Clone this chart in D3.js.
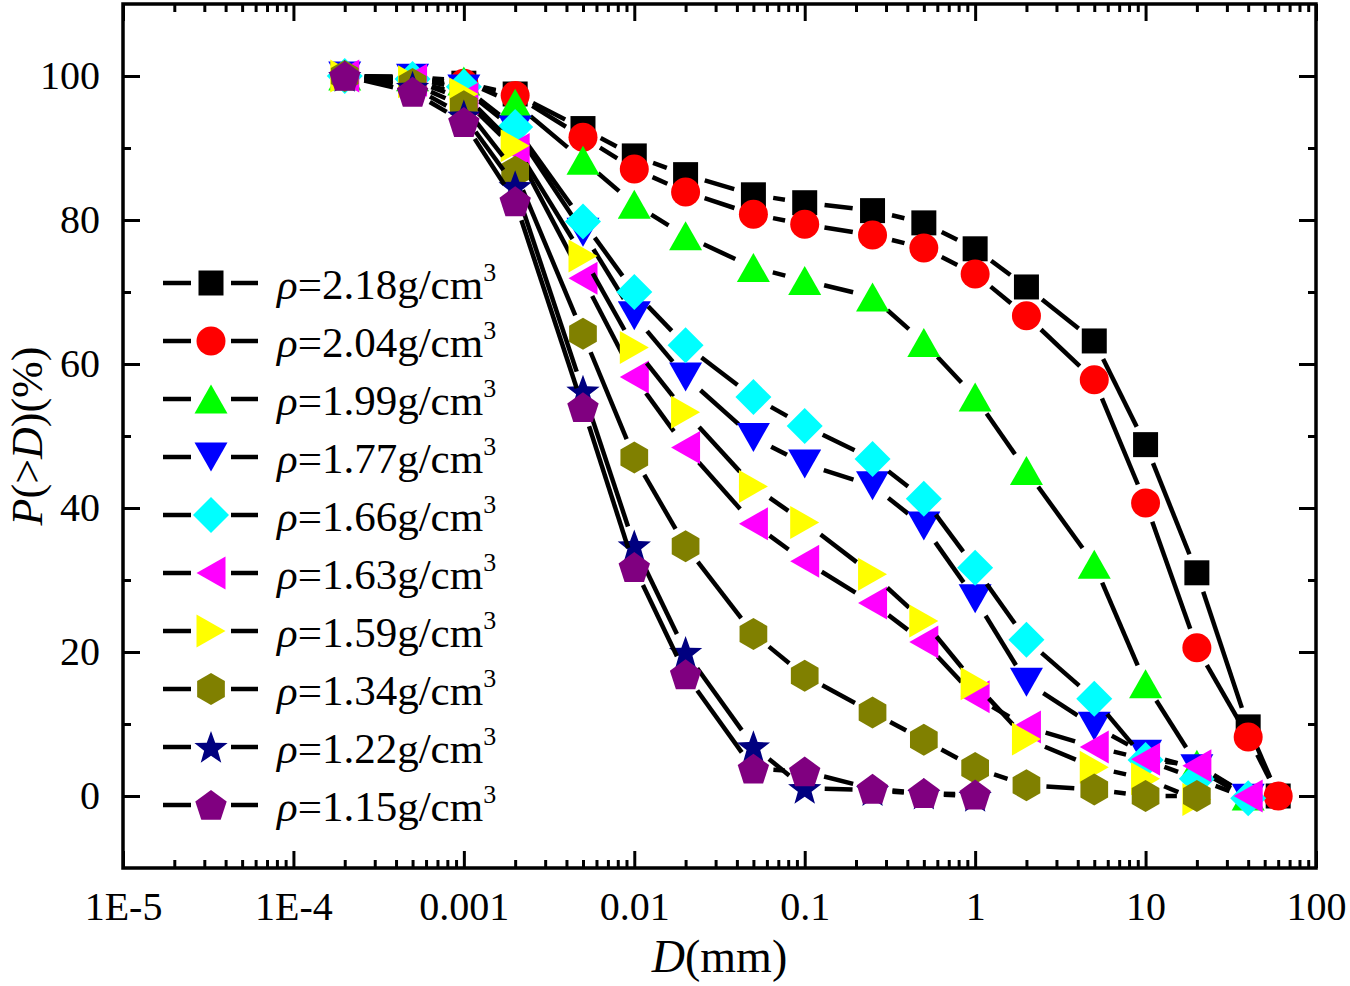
<!DOCTYPE html>
<html>
<head>
  <script src="https://d3js.org/d3.v7.min.js"></script>
  <style>
    body { margin: 0; background: #fff; }
    svg { display: block; font-family: "Liberation Serif", "Times New Roman", serif; }
  </style>
</head>
<body>
<div id="chart"></div>
<script>
  // particle size D (mm)
  var sizes = [0.0002, 0.0005, 0.001, 0.002, 0.005, 0.01, 0.02, 0.05, 0.1, 0.25, 0.5, 1, 2, 5, 10, 20, 40, 60];

  // P(>D) in %, one array per density (null = no point)
  var rho218 = [100, 99.8, 99, 97.5, 92.7, 88.9, 86.3, 83.5, 82.4, 81.3, 79.6, 76, 70.7, 63.2, 48.8, 31, 9.6, 0];
  var rho204 = [100, 99.6, 99, 97.3, 91.5, 87.1, 83.9, 80.8, 79.4, 77.9, 76.1, 72.5, 66.7, 57.8, 40.7, 20.6, 8.2, 0];
  var rho199 = [100, 99.9, 99.3, 96.2, 88.3, 82.2, 77.8, 73.4, 71.6, 69.3, 63, 55.4, 45.2, 32.2, 15.6, 4.4, 0, null];
  var rho177 = [100, 99.7, 98.2, 92.5, 78.3, 66.7, 58.2, 49.8, 46.1, 43.1, 37.5, 27.4, 15.8, 9.7, 5.8, 3.8, -0.3, null];
  var rho166 = [100, 99.6, 98.5, 92.9, 79.8, 70, 62.6, 55.4, 51.4, 46.8, 41.3, 31.7, 21.7, 13.5, 5, 2.4, -0.3, null];
  var rho163 = [100, 99.4, 96.8, 89.8, 71.9, 58.2, 48.4, 37.8, 32.6, 26.8, 21.4, 13.8, 9.6, 6.8, 5.1, 4.2, 0, null];
  var rho159 = [100, 99.2, 97.5, 90.3, 75, 62.3, 53.3, 43, 38, 30.8, 24.3, 15.6, 7.9, 4, 2.4, -0.5, null, null];
  var rho134 = [100, 98.9, 95.8, 86.7, 64.2, 47, 34.7, 22.5, 16.7, 11.6, 7.8, 3.9, 1.5, 0.9, 0, 0, null, null];
  var rho122 = [100, 98.5, 94.5, 84.7, 56.3, 34.8, 20, 6.9, 1.1, 0.8, 0.3, 0, null, null, null, null, null, null];
  var rho115 = [100, 97.8, 93.6, 82.6, 54, 31.8, 16.9, 3.8, 3.4, 1, 0.4, 0.2, null, null, null, null, null, null];

  var seriesNames = ["2.18", "2.04", "1.99", "1.77", "1.66", "1.63", "1.59", "1.34", "1.22", "1.15"];
  var seriesColors = ["#000000", "#ff0000", "#00ff00", "#0000ff", "#00ffff", "#ff00ff", "#ffff00", "#808000", "#000080", "#800080"];
  var seriesShapes = ["square", "circle", "up", "down", "diamond", "left", "right", "hexagon", "star", "pentagon"];
  var seriesValues = [rho218, rho204, rho199, rho177, rho166, rho163, rho159, rho134, rho122, rho115];

  var xTickValues = [1e-5, 1e-4, 0.001, 0.01, 0.1, 1, 10, 100];
  var xTickLabels = ["1E-5", "1E-4", "0.001", "0.01", "0.1", "1", "10", "100"];
  var yTickValues = [0, 20, 40, 60, 80, 100];
  var yMinorValues = [10, 30, 50, 70, 90];

  var width = 1350, height = 986;
  var plotLeft = 123, plotRight = 1316, plotTop = 4, plotBottom = 868;

  var svg = d3.select("#chart").append("svg")
    .attr("width", width)
    .attr("height", height);

  svg.append("rect").attr("width", width).attr("height", height).attr("fill", "#fff");

  var x = d3.scaleLog().domain([1e-5, 100]).range([plotLeft, plotRight]);
  var y = d3.scaleLinear().domain([-10, 110]).range([plotBottom, plotTop]);

  // marker shapes as d3 symbol types, drawn at a fixed pixel size
  function poly(ctx, pts) {
    ctx.moveTo(pts[0][0], pts[0][1]);
    for (var i = 1; i < pts.length; i++) ctx.lineTo(pts[i][0], pts[i][1]);
    ctx.closePath();
  }
  function regular(n, r, rot) {
    var pts = [];
    for (var i = 0; i < n; i++) {
      var a = rot + i * 2 * Math.PI / n;
      pts.push([r * Math.cos(a), r * Math.sin(a)]);
    }
    return pts;
  }
  var shapeTypes = {
    square: { draw: function(ctx) { poly(ctx, [[-12.5, -12.5], [12.5, -12.5], [12.5, 12.5], [-12.5, 12.5]]); } },
    circle: { draw: function(ctx) { ctx.moveTo(14.5, 0); ctx.arc(0, 0, 14.5, 0, 2 * Math.PI); } },
    up: { draw: function(ctx) { poly(ctx, [[0, -14.5], [16.5, 14.5], [-16.5, 14.5]]); } },
    down: { draw: function(ctx) { poly(ctx, [[0, 14.5], [16.5, -14.5], [-16.5, -14.5]]); } },
    left: { draw: function(ctx) { poly(ctx, [[-14.5, 0], [14.5, -16.5], [14.5, 16.5]]); } },
    right: { draw: function(ctx) { poly(ctx, [[14.5, 0], [-14.5, -16.5], [-14.5, 16.5]]); } },
    diamond: { draw: function(ctx) { poly(ctx, [[0, -18], [18, 0], [0, 18], [-18, 0]]); } },
    hexagon: { draw: function(ctx) { poly(ctx, regular(6, 16, -Math.PI / 2)); } },
    pentagon: { draw: function(ctx) { poly(ctx, regular(5, 16.5, -Math.PI / 2).map(function(p) { return [p[0], p[1] + 1.5]; })); } },
    star: { draw: function(ctx) {
      var pts = [];
      for (var i = 0; i < 10; i++) {
        var r = i % 2 ? 7.2 : 17.5;
        var a = -Math.PI / 2 + i * Math.PI / 5;
        pts.push([r * Math.cos(a), r * Math.sin(a) + 1.5]);
      }
      poly(ctx, pts);
    } }
  };

  // connecting lines stop short of each marker
  var gap = 20;
  function gappedSegments(pts) {
    var segs = [];
    for (var i = 1; i < pts.length; i++) {
      var p0 = pts[i - 1], p1 = pts[i];
      var dx = p1[0] - p0[0], dy = p1[1] - p0[1];
      var L = Math.sqrt(dx * dx + dy * dy);
      if (L <= 2 * gap) continue;
      var ux = dx / L, uy = dy / L;
      segs.push([p0[0] + ux * gap, p0[1] + uy * gap, p1[0] - ux * gap, p1[1] - uy * gap]);
    }
    return segs;
  }

  var series = seriesNames.map(function(name, i) {
    return {
      name: name,
      color: seriesColors[i],
      shape: seriesShapes[i],
      points: sizes.map(function(d, j) { return { d: d, p: seriesValues[i][j] }; })
                   .filter(function(o) { return o.p !== null; })
    };
  });

  var plot = svg.append("g");

  series.forEach(function(s) {
    var g = plot.append("g");
    var pts = s.points.map(function(o) { return [x(o.d), y(o.p)]; });
    g.selectAll("line")
      .data(gappedSegments(pts))
      .enter().append("line")
      .attr("x1", function(d) { return d[0]; })
      .attr("y1", function(d) { return d[1]; })
      .attr("x2", function(d) { return d[2]; })
      .attr("y2", function(d) { return d[3]; })
      .attr("stroke", "#000")
      .attr("stroke-width", 4.5);
    g.selectAll("path")
      .data(s.points)
      .enter().append("path")
      .attr("transform", function(o) { return "translate(" + x(o.d) + "," + y(o.p) + ")"; })
      .attr("d", d3.symbol().type(shapeTypes[s.shape]))
      .attr("fill", s.color);
  });

  // axes: ticks point inward, frame drawn separately
  function styleAxis(g, fontSize) {
    g.select(".domain").remove();
    g.attr("font-family", null).attr("font-size", null);
    g.selectAll(".tick line").attr("stroke", "#000").attr("stroke-width", 3);
    g.selectAll(".tick text").attr("fill", "#000").style("font-size", fontSize + "px");
  }

  var xMinor = [];
  [1e-5, 1e-4, 1e-3, 1e-2, 1e-1, 1, 10].forEach(function(base) {
    for (var k = 2; k <= 9; k++) xMinor.push(base * k);
  });

  var xBottom = svg.append("g").attr("transform", "translate(0," + plotBottom + ")")
    .call(d3.axisBottom(x).tickValues(xTickValues)
      .tickFormat(function(d, i) { return xTickLabels[i]; })
      .tickSizeInner(-17).tickSizeOuter(0).tickPadding(24));
  styleAxis(xBottom, 40);
  var xBottomMinor = svg.append("g").attr("transform", "translate(0," + plotBottom + ")")
    .call(d3.axisBottom(x).tickValues(xMinor).tickFormat("").tickSizeInner(-8).tickSizeOuter(0));
  styleAxis(xBottomMinor, 40);

  var xTop = svg.append("g").attr("transform", "translate(0," + plotTop + ")")
    .call(d3.axisTop(x).tickValues(xTickValues).tickFormat("").tickSizeInner(-17).tickSizeOuter(0));
  styleAxis(xTop, 40);
  var xTopMinor = svg.append("g").attr("transform", "translate(0," + plotTop + ")")
    .call(d3.axisTop(x).tickValues(xMinor).tickFormat("").tickSizeInner(-8).tickSizeOuter(0));
  styleAxis(xTopMinor, 40);

  var yLeft = svg.append("g").attr("transform", "translate(" + plotLeft + ",0)")
    .call(d3.axisLeft(y).tickValues(yTickValues).tickFormat(d3.format("d"))
      .tickSizeInner(-17).tickSizeOuter(0).tickPadding(23));
  styleAxis(yLeft, 40);
  var yLeftMinor = svg.append("g").attr("transform", "translate(" + plotLeft + ",0)")
    .call(d3.axisLeft(y).tickValues(yMinorValues).tickFormat("").tickSizeInner(-8).tickSizeOuter(0));
  styleAxis(yLeftMinor, 40);

  var yRight = svg.append("g").attr("transform", "translate(" + plotRight + ",0)")
    .call(d3.axisRight(y).tickValues(yTickValues).tickFormat("").tickSizeInner(-17).tickSizeOuter(0));
  styleAxis(yRight, 40);
  var yRightMinor = svg.append("g").attr("transform", "translate(" + plotRight + ",0)")
    .call(d3.axisRight(y).tickValues(yMinorValues).tickFormat("").tickSizeInner(-8).tickSizeOuter(0));
  styleAxis(yRightMinor, 40);

  svg.append("rect")
    .attr("x", plotLeft).attr("y", plotTop)
    .attr("width", plotRight - plotLeft).attr("height", plotBottom - plotTop)
    .attr("fill", "none").attr("stroke", "#000").attr("stroke-width", 3.5);

  // axis titles
  var xTitle = svg.append("text")
    .attr("x", (plotLeft + plotRight) / 2).attr("y", 972)
    .attr("text-anchor", "middle")
    .style("font-size", "46px");
  xTitle.append("tspan").attr("font-style", "italic").text("D");
  xTitle.append("tspan").text("(mm)");

  var yTitle = svg.append("text")
    .attr("transform", "translate(42," + (plotTop + plotBottom) / 2 + ") rotate(-90)")
    .attr("text-anchor", "middle")
    .style("font-size", "44px");
  yTitle.append("tspan").attr("font-style", "italic").text("P");
  yTitle.append("tspan").text("(>");
  yTitle.append("tspan").attr("font-style", "italic").text("D");
  yTitle.append("tspan").text(")(%)");

  // legend
  var legendTop = 283, legendStep = 58;
  var legend = svg.append("g");
  var rows = legend.selectAll("g")
    .data(series)
    .enter().append("g")
    .attr("transform", function(d, i) { return "translate(0," + (legendTop + i * legendStep) + ")"; });

  rows.append("line").attr("x1", 163).attr("x2", 191).attr("y1", 0).attr("y2", 0)
    .attr("stroke", "#000").attr("stroke-width", 4.5);
  rows.append("line").attr("x1", 231).attr("x2", 258).attr("y1", 0).attr("y2", 0)
    .attr("stroke", "#000").attr("stroke-width", 4.5);
  rows.append("path")
    .attr("transform", "translate(211,0)")
    .attr("d", function(d) { return d3.symbol().type(shapeTypes[d.shape])(); })
    .attr("fill", function(d) { return d.color; });

  var labels = rows.append("text")
    .attr("x", 277).attr("y", 16)
    .style("font-size", "43px");
  labels.append("tspan").attr("font-style", "italic").text("\u03c1");
  labels.append("tspan").text(function(d) { return "=" + d.name + "g/cm"; });
  labels.append("tspan").attr("dy", -18).style("font-size", "26px").text("3");
</script>
</body>
</html>
